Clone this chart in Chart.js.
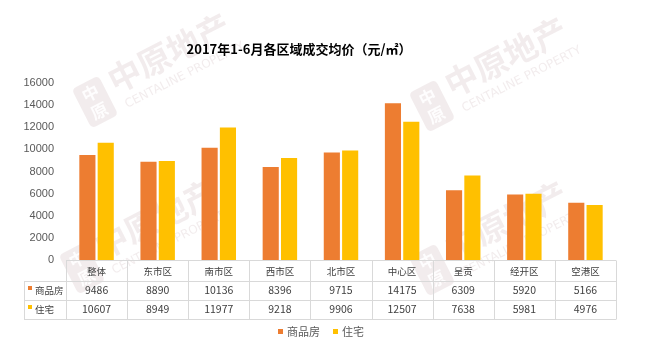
<!DOCTYPE html>
<html><head><meta charset="utf-8">
<script src="https://cdn.jsdelivr.net/npm/chart.js@4"></script>
<style>html,body{margin:0;padding:0;background:#fff}#wrap{width:654px;height:352px}</style>
</head><body><div id="wrap"><canvas id="c" width="654" height="352"></canvas></div>
<script>
const title = '2017年1-6月各区域成交均价（元/㎡）';
const categories = ['整体','东市区','南市区','西市区','北市区','中心区','呈贡','经开区','空港区'];
const seriesNames = ['商品房','住宅'];
const commercial = [9486, 8890, 10136, 8396, 9715, 14175, 6309, 5920, 5166];
const residential = [10607, 8949, 11977, 9218, 9906, 12507, 7638, 5981, 4976];
const yTicks = [0, 2000, 4000, 6000, 8000, 10000, 12000, 14000, 16000];
const colors = ['#ED7D31', '#FFC000'];
const CJK = '"Noto Sans CJK SC", "Noto Sans", sans-serif';

function watermark(ctx, x, y) {
  ctx.save();
  ctx.translate(x, y);
  ctx.rotate(-0.47);
  ctx.globalAlpha = 0.16;
  ctx.fillStyle = '#b0868c';
  const r = 5, lx = -15, ly = -22, lw = 30, lh = 44;
  ctx.beginPath();
  ctx.moveTo(lx + r, ly); ctx.lineTo(lx + lw - r, ly); ctx.quadraticCurveTo(lx + lw, ly, lx + lw, ly + r);
  ctx.lineTo(lx + lw, ly + lh - r); ctx.quadraticCurveTo(lx + lw, ly + lh, lx + lw - r, ly + lh);
  ctx.lineTo(lx + r, ly + lh); ctx.quadraticCurveTo(lx, ly + lh, lx, ly + lh - r);
  ctx.lineTo(lx, ly + r); ctx.quadraticCurveTo(lx, ly, lx + r, ly); ctx.fill();
  ctx.fillStyle = '#fff';
  ctx.globalAlpha = 0.9;
  ctx.font = 'bold 17px ' + CJK;
  ctx.textAlign = 'center'; ctx.textBaseline = 'middle';
  ctx.fillText('中', 0, -10); ctx.fillText('原', 0, 10);
  ctx.globalAlpha = 0.16;
  ctx.fillStyle = '#b0868c';
  ctx.textAlign = 'left'; ctx.textBaseline = 'alphabetic';
  ctx.font = 'bold 33px ' + CJK;
  ctx.fillText('中原地产', 22, 2);
  ctx.font = '12px "DejaVu Sans", sans-serif';
  ctx.fillText('CENTALINE PROPERTY', 26, 20);
  ctx.restore();
}

const extras = {
  id: 'extras',
  beforeDraw(chart) {
    const ctx = chart.ctx;
    ctx.save();
    ctx.fillStyle = '#fff';
    ctx.fillRect(0, 0, chart.width, chart.height);
    ctx.restore();
    watermark(ctx, 95, 102);
    watermark(ctx, 432, 106);
    watermark(ctx, 82, 268);
    watermark(ctx, 432, 270);
  },
  afterDraw(chart) {
    const ctx = chart.ctx;
    const xs = chart.scales.x;
    const ca = chart.chartArea;
    const n = categories.length;
    const w = (xs.right - xs.left) / n;
    const top = ca.bottom;
    const rows = [top, top + 20.5, top + 39.5, top + 58.5];
    const leftX = 24;
    ctx.save();
    ctx.fillStyle = '#000';
    ctx.font = 'bold 13px ' + CJK;
    ctx.textAlign = 'center'; ctx.textBaseline = 'middle';
    ctx.fillText(title, 299, 49);
    ctx.restore();
    ctx.save();
    ctx.strokeStyle = '#d9d9d9';
    ctx.lineWidth = 1;
    ctx.beginPath();
    const px = v => Math.round(v) + 0.5;
    ctx.moveTo(xs.left, px(rows[0])); ctx.lineTo(xs.right, px(rows[0]));
    for (let r = 1; r < 4; r++) { ctx.moveTo(leftX, px(rows[r])); ctx.lineTo(xs.right, px(rows[r])); }
    ctx.moveTo(px(leftX), px(rows[1])); ctx.lineTo(px(leftX), px(rows[3]));
    for (let i = 0; i <= n; i++) {
      const x = px(xs.left + i * w);
      ctx.moveTo(x, px(rows[0])); ctx.lineTo(x, px(rows[3]));
    }
    ctx.stroke();
    ctx.fillStyle = '#404040';
    ctx.textAlign = 'center'; ctx.textBaseline = 'middle';
    const vals = [commercial, residential];
    for (let i = 0; i < n; i++) {
      const cx = xs.getPixelForValue(i);
      ctx.font = '9.5px ' + CJK;
      ctx.fillText(categories[i], cx, (rows[0] + rows[1]) / 2 + 1);
      ctx.font = '10.5px ' + CJK;
      for (let s = 0; s < 2; s++) {
        ctx.fillText(String(vals[s][i]), cx, (rows[s + 1] + rows[s + 2]) / 2);
      }
    }
    ctx.textAlign = 'left';
    for (let s = 0; s < 2; s++) {
      const cy = (rows[s + 1] + rows[s + 2]) / 2;
      ctx.fillStyle = colors[s];
      ctx.fillRect(28, cy - 4, 4, 4);
      ctx.fillStyle = '#404040';
      ctx.font = '9.5px ' + CJK;
      ctx.fillText(seriesNames[s], 35, cy);
    }
    ctx.font = '11px ' + CJK;
    const items = seriesNames.map(t => ctx.measureText(t).width);
    const box = 5, gapText = 4, gapItem = 13;
    const total = items.reduce((a, b) => a + b, 0) + 2 * (box + gapText) + gapItem;
    let x = 321 - total / 2;
    const ly = 332;
    for (let s = 0; s < 2; s++) {
      ctx.fillStyle = colors[s];
      ctx.fillRect(x, ly - 3, box, box);
      x += box + gapText;
      ctx.fillStyle = '#595959';
      ctx.fillText(seriesNames[s], x, ly);
      x += items[s] + gapItem;
    }
    ctx.restore();
  }
};

new Chart(document.getElementById('c'), {
  type: 'bar',
  data: {
    labels: categories,
    datasets: [
      { label: seriesNames[0], data: commercial, backgroundColor: colors[0] },
      { label: seriesNames[1], data: residential, backgroundColor: colors[1] }
    ]
  },
  options: {
    responsive: false,
    animation: false,
    devicePixelRatio: 1,
    layout: { padding: { top: 83, left: 20, right: 38, bottom: 33.5 } },
    datasets: { bar: { categoryPercentage: 0.6, barPercentage: 0.88 } },
    plugins: { legend: { display: false }, title: { display: false }, tooltip: { enabled: false } },
    scales: {
      x: {
        grid: { display: false, drawTicks: false },
        border: { display: false },
        ticks: { display: false },
        afterFit: s => { s.height = 58.5; }
      },
      y: {
        min: 0, max: 16000,
        afterBuildTicks: s => { s.ticks = yTicks.map(v => ({ value: v })); },
        grid: { display: false, drawTicks: false },
        border: { display: false },
        ticks: { padding: 12, color: '#595959', callback: v => String(v), font: { size: 11, family: '"Liberation Sans", "Noto Sans", sans-serif' } },
        afterFit: s => { s.width = 46; }
      }
    }
  },
  plugins: [extras]
});
</script>
</body></html>
